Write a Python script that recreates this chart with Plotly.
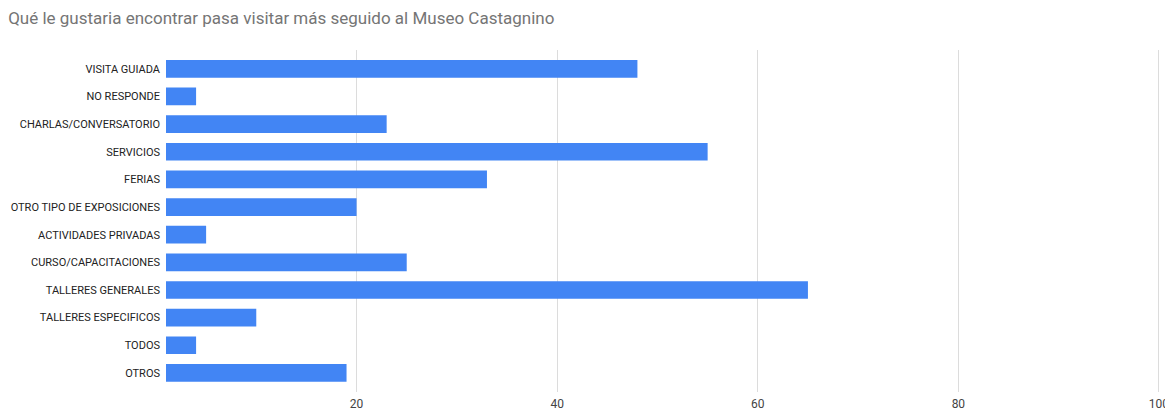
import plotly.graph_objects as go

categories = [
    "VISITA GUIADA",
    "NO RESPONDE",
    "CHARLAS/CONVERSATORIO",
    "SERVICIOS",
    "FERIAS",
    "OTRO TIPO DE EXPOSICIONES",
    "ACTIVIDADES PRIVADAS",
    "CURSO/CAPACITACIONES",
    "TALLERES GENERALES",
    "TALLERES ESPECIFICOS",
    "TODOS",
    "OTROS",
]
values = [48, 4, 23, 55, 33, 20, 5, 25, 65, 10, 4, 19]
x_ticks = [20, 40, 60, 80, 100]

title_text = "Qué le gustaria encontrar pasa visitar más seguido al Museo Castagnino"

n = len(categories)
idx = list(range(n))

fig = go.Figure(
    go.Bar(
        x=values,
        y=idx,
        orientation="h",
        marker=dict(color="#4285F4", line=dict(width=0)),
        hoverinfo="x+y",
    )
)

fig.update_layout(
    width=1165,
    height=412,
    margin=dict(l=166, r=0, t=50, b=20),
    paper_bgcolor="white",
    plot_bgcolor="white",
    bargap=0.36,
    showlegend=False,
    title=dict(
        text=title_text,
        x=0.007,
        xanchor="left",
        y=0.955,
        yanchor="middle",
        font=dict(family="Roboto, Arial, sans-serif", size=17, color="#757575"),
    ),
    font=dict(family="Roboto, Arial, sans-serif"),
)

fig.update_xaxes(
    range=[1, 100.6],
    tickvals=x_ticks,
    ticktext=[str(v) for v in x_ticks],
    showgrid=True,
    gridcolor="#dcdcdc",
    gridwidth=1,
    zeroline=False,
    showline=False,
    ticks="",
    ticklabelstandoff=3,
    ticklabeloverflow="allow",
    automargin=False,
    tickfont=dict(size=12, color="#444444", family="Roboto, Arial, sans-serif"),
    fixedrange=True,
)

fig.update_yaxes(
    tickvals=idx,
    ticktext=categories,
    range=[11.69, -0.68],
    showgrid=False,
    zeroline=False,
    showline=False,
    ticks="",
    ticklabelstandoff=5,
    automargin=False,
    tickfont=dict(size=11, color="#222222", family="Roboto, Arial, sans-serif"),
    fixedrange=True,
)

fig.write_html("out.html")
